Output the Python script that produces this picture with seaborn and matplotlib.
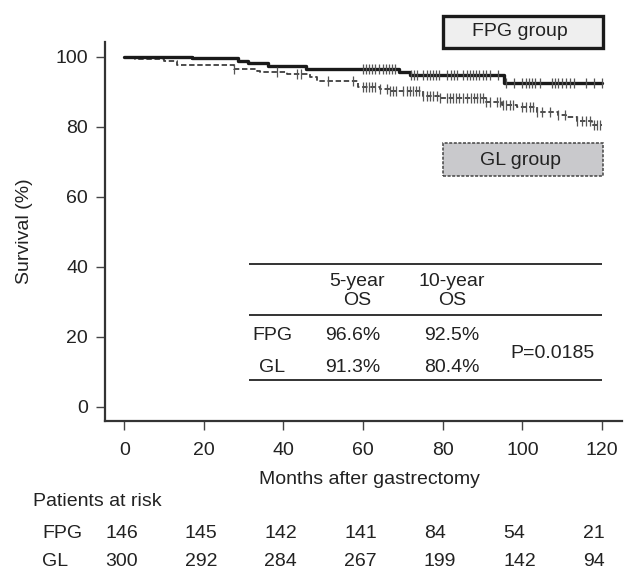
import numpy as np
import pandas as pd
import matplotlib
matplotlib.use("Agg")
import matplotlib.pyplot as plt
import matplotlib.transforms as mtransforms
from matplotlib.patches import Rectangle
import seaborn as sns

sns.set_theme(style="ticks")
plt.rcParams['font.family'] = ['Liberation Sans', 'DejaVu Sans']

# ---------------- data ----------------
follow_up_end = 120
fpg_event_months = [0, 17, 28.5, 31, 36, 45.7, 68.9, 71.9, 95.3]
fpg_survival = [100, 99.5, 98.8, 98.1, 97.3, 96.6, 95.7, 94.7, 92.5]
gl_event_months = [0, 2.8, 9.9, 13.2, 27.5, 33.3, 34.2, 40.9, 46.7, 48.4, 58.8,
                   64.3, 66.8, 75, 79, 91, 95, 98.7, 103.7, 109, 111, 113.8, 117.5]
gl_survival = [100, 99.4, 98.9, 97.6, 96.6, 96.0, 95.5, 95.2, 94.2, 93.0, 91.3,
               90.8, 90.3, 88.7, 88.1, 87.2, 86.3, 85.6, 84.3, 83.4, 82.9, 81.6, 80.4]
fpg_censor_months = [60, 60.8, 61.5, 62.3, 63, 64, 65, 65.7, 66.5, 67.3, 68,
                     72, 72.8, 73.5, 75, 76, 76.8, 77.5, 78.3, 79, 81, 82, 82.8,
                     83.5, 85, 86, 86.8, 87.5, 88.3, 89, 90, 91, 92, 94, 96, 98,
                     100, 101, 101.8, 102.5, 103.3, 104.5, 107.5, 108.3, 109,
                     110, 111, 112, 113, 116, 118, 120]
gl_censor_months = [27.5, 38.4, 43.5, 44.3, 51.3, 57.5, 60, 60.7, 61.4, 62.2, 63,
                    64.3, 66, 66.8, 67.5, 68.2, 70, 71, 71.8, 72.5, 73.2, 74, 75,
                    76, 76.8, 77.5, 78.5, 79.4, 81, 81.8, 82.5, 83.3, 84, 85, 86,
                    87, 87.8, 88.5, 89.3, 90, 91, 92, 93.7, 94.5, 95.2, 96, 96.8,
                    97.7, 100, 101, 102, 102.8, 103.7, 105, 107, 109, 110.8,
                    113.8, 115, 116, 117, 118, 118.8, 119.6]
risk_months = [0, 20, 40, 60, 80, 100, 120]
fpg_at_risk = [146, 145, 142, 141, 84, 54, 21]
gl_at_risk = [300, 292, 284, 267, 199, 142, 94]
groups = ["FPG", "GL"]
legend_labels = ["FPG group", "GL group"]
os_headers = ["5-year\nOS", "10-year\nOS"]
fpg_os = ["96.6%", "92.5%"]
gl_os = ["91.3%", "80.4%"]
p_value_text = "P=0.0185"
x_ticks = [0, 20, 40, 60, 80, 100, 120]
y_ticks = [0, 20, 40, 60, 80, 100]


def km_frame(times, surv, end):
    t = list(times) + [end]
    s = list(surv) + [surv[-1]]
    return pd.DataFrame({"month": t, "survival": s})


def step_value(times, surv, c):
    idx = np.searchsorted(np.asarray(times), np.asarray(c), side="right") - 1
    return np.asarray(surv)[idx]


W, H = 627, 572
fig = plt.figure(figsize=(W / 100, H / 100), dpi=100)
ax = fig.add_axes([105.3 / W, 1 - 420.7 / H, 516.4 / W, 378.7 / H])

TXT = "#222222"
FS = 14

df_fpg = km_frame(fpg_event_months, fpg_survival, follow_up_end)
df_gl = km_frame(gl_event_months, gl_survival, follow_up_end)

sns.lineplot(data=df_gl, x="month", y="survival", drawstyle="steps-post",
             estimator=None, sort=False, color="#3f3f3f", lw=1.3,
             dashes=False, ax=ax, linestyle=(0, (3, 1.5)))
sns.lineplot(data=df_fpg, x="month", y="survival", drawstyle="steps-post",
             estimator=None, sort=False, color="#1a1a1a", lw=2.4, ax=ax)

cens_gl = pd.DataFrame({"month": gl_censor_months,
                        "survival": step_value(gl_event_months, gl_survival, gl_censor_months)})
cens_fpg = pd.DataFrame({"month": fpg_censor_months,
                         "survival": step_value(fpg_event_months, fpg_survival, fpg_censor_months)})
sns.scatterplot(data=cens_gl, x="month", y="survival", marker="|", s=55,
                color="#555555", linewidth=0.9, ax=ax, zorder=3)
sns.scatterplot(data=cens_fpg, x="month", y="survival", marker="|", s=55,
                color="#555555", linewidth=0.9, ax=ax, zorder=3)

ax.set_xlim(-4.77, 124.97)
ax.set_ylim(-4.0, 104.2)
ax.set_xticks(x_ticks)
ax.set_yticks(y_ticks)
ax.set_xticklabels([str(v) for v in x_ticks])
ax.set_yticklabels([str(v) for v in y_ticks])
for s in ["top", "right"]:
    ax.spines[s].set_visible(False)
for s in ["left", "bottom"]:
    ax.spines[s].set_linewidth(1.6)
    ax.spines[s].set_color("#333333")
ax.tick_params(axis="both", direction="out", length=6.5, width=1.0,
               color="#444444", labelsize=FS, labelcolor=TXT)
ax.tick_params(axis="x", pad=9)
ax.tick_params(axis="y", pad=6)

ax.set_xlabel("Months after gastrectomy", fontsize=FS, color=TXT, va="center")
ax.xaxis.set_label_coords(0.511, -0.154)
ax.set_ylabel("Survival (%)", fontsize=FS, color=TXT, va="center")
ax.yaxis.set_label_coords(-0.1555, 0.5)

# summary table inside the plot
tbl_x0, tbl_x1 = 31.3, 120.0
for yy in [40.8, 26.2, 7.6]:
    ax.plot([tbl_x0, tbl_x1], [yy, yy], color="#333333", lw=1.4, solid_capstyle="butt")
for hx, h in zip([58.4, 82.3], os_headers):
    ax.text(hx, 33.1, h, ha="center", va="center", fontsize=FS, color=TXT, linespacing=1.2)
ax.text(37.2, 20.2, groups[0], ha="center", va="center", fontsize=FS, color=TXT)
ax.text(37.2, 11.3, groups[1], ha="center", va="center", fontsize=FS, color=TXT)
for vx, a, b in zip([57.5, 82.3], fpg_os, gl_os):
    ax.text(vx, 20.2, a, ha="center", va="center", fontsize=FS, color=TXT)
    ax.text(vx, 11.3, b, ha="center", va="center", fontsize=FS, color=TXT)
ax.text(107.7, 15.1, p_value_text, ha="center", va="center", fontsize=FS, color=TXT)

# legend boxes (figure coords)
fig.patches.append(Rectangle((443 / W, 1 - 48 / H), 160 / W, 32 / H,
                             transform=fig.transFigure, facecolor="#efefef",
                             edgecolor="#1a1a1a", lw=2.4))
fig.patches.append(Rectangle((443 / W, 1 - 176 / H), 160 / W, 33 / H,
                             transform=fig.transFigure, facecolor="#c9c9cc",
                             edgecolor="#444444", lw=1.1, linestyle=(0, (2, 1))))
fig.text(520 / W, 1 - 32 / H, legend_labels[0], ha="center", va="center", fontsize=FS, color=TXT)
fig.text(520 / W, 1 - 160 / H, legend_labels[1], ha="center", va="center", fontsize=FS, color=TXT)

# numbers at risk
fig.text(33 / W, 1 - 502 / H, "Patients at risk", ha="left", va="center", fontsize=FS, color=TXT)
fig.text(42 / W, 1 - 533 / H, groups[0], ha="left", va="center", fontsize=FS, color=TXT)
fig.text(42 / W, 1 - 561 / H, groups[1], ha="left", va="center", fontsize=FS, color=TXT)
blend = mtransforms.blended_transform_factory(ax.transData, fig.transFigure)
risk_tr = mtransforms.offset_copy(blend, fig=fig, x=-19, y=0, units="dots")
for m, a, b in zip(risk_months, fpg_at_risk, gl_at_risk):
    fig.text(m, 1 - 533 / H, str(a), ha="left", va="center", fontsize=FS, color=TXT, transform=risk_tr)
    fig.text(m, 1 - 561 / H, str(b), ha="left", va="center", fontsize=FS, color=TXT, transform=risk_tr)

fig.savefig("out.png", dpi=100, facecolor="white")
